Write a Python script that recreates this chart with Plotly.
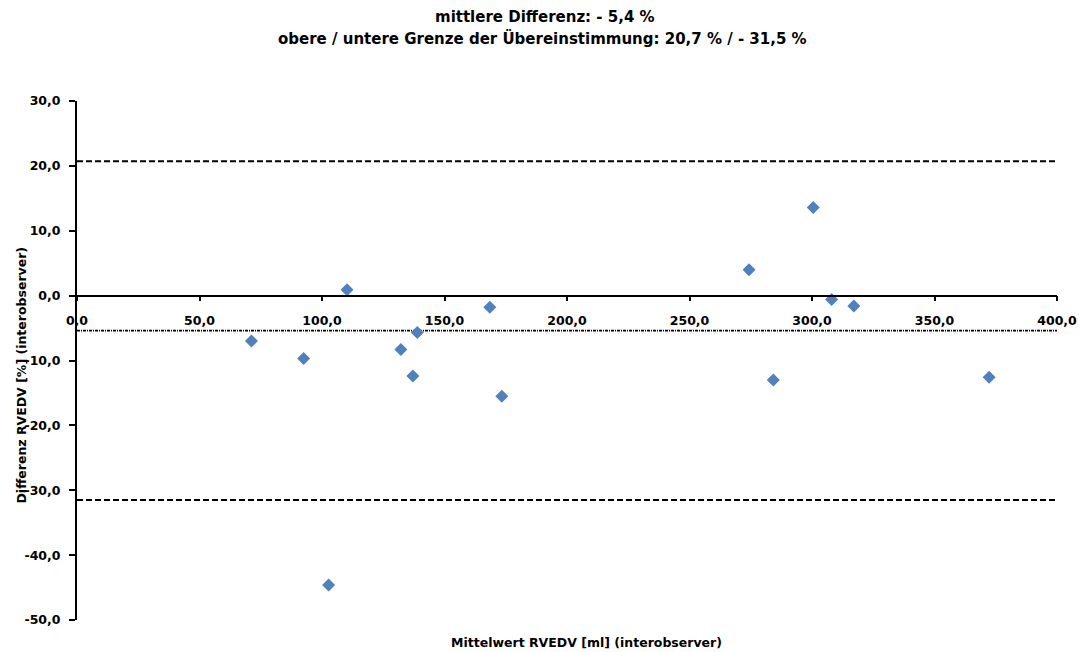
import plotly.graph_objects as go

# data
mittelwert = [71.2, 92.5, 110.2, 102.7, 132.2, 137.1, 138.9, 168.5, 173.4,
              274.3, 284.2, 300.5, 308.0, 317.1, 372.3]
differenz = [-7.0, -9.7, 0.9, -44.6, -8.3, -12.4, -5.7, -1.8, -15.5,
             4.0, -13.0, 13.6, -0.6, -1.6, -12.6]
mean_diff = -5.4
upper_loa = 20.7
lower_loa = -31.5
x_range = [0, 400]
y_range = [-50, 30]
x_tickvals = [0, 50, 100, 150, 200, 250, 300, 350, 400]
x_ticktext = ["0,0", "50,0", "100,0", "150,0", "200,0", "250,0", "300,0", "350,0", "400,0"]
y_tickvals = [-50, -40, -30, -20, -10, 0, 10, 20, 30]
y_ticktext = ["-50,0", "-40,0", "-30,0", "-20,0", "-10,0", "0,0", "10,0", "20,0", "30,0"]

title_line1 = "mittlere Differenz: - 5,4 %"
title_line2 = "obere / untere Grenze der Übereinstimmung: 20,7 % / - 31,5 %"
x_title = "Mittelwert RVEDV [ml] (interobserver)"
y_title = "Differenz RVEDV [%] (interobserver)"

FONT = "DejaVu Sans"
W, H = 1079, 652
L, T = 76.5, 101
R, B = W - 1057, H - 620
PW = W - L - R
PH = H - T - B

fig = go.Figure()
for yv, dash, w in [(upper_loa, "6px,3px", 2), (lower_loa, "6px,3px", 2),
                    (mean_diff, "3px,1px,1px,1px", 1.8)]:
    fig.add_trace(go.Scatter(x=x_range, y=[yv, yv], mode="lines",
                             line=dict(color="black", width=w, dash=dash),
                             showlegend=False, hoverinfo="skip"))

fig.add_trace(go.Scatter(x=mittelwert, y=differenz, mode="markers",
                         marker=dict(symbol="diamond", size=10, color="#4F81BD"),
                         showlegend=False))

fig.update_layout(
    width=W, height=H,
    margin=dict(l=L, r=R, t=T, b=B, autoexpand=False),
    paper_bgcolor="white", plot_bgcolor="white",
    font=dict(family=FONT, color="black"),
    xaxis=dict(range=x_range, tickvals=x_tickvals, ticktext=x_ticktext,
               showgrid=False, zeroline=False, automargin=False,
               showline=True, linecolor="black", linewidth=1.5,
               ticks="outside", ticklen=5, tickwidth=1.5, tickcolor="black",
               anchor="free", position=(0 - y_range[0]) / (y_range[1] - y_range[0]),
               tickfont=dict(size=12.5, family=FONT, weight="bold"), ticklabelstandoff=9),
    yaxis=dict(range=y_range, tickvals=y_tickvals, ticktext=y_ticktext,
               showgrid=False, zeroline=False, automargin=False,
               showline=True, linecolor="black", linewidth=2,
               ticks="outside", ticklen=6, tickwidth=1.5, tickcolor="black",
               tickfont=dict(size=12.5, family=FONT, weight="bold"), ticklabelstandoff=6),
)

def ann(text, px, py, size, angle=0):
    fig.add_annotation(text=text, xref="paper", yref="paper",
                       x=(px - L) / PW, y=1 - (py - T) / PH,
                       xanchor="center", yanchor="middle", textangle=angle,
                       showarrow=False, font=dict(size=size, family=FONT, weight="bold"))

ann(title_line1, 545, 17, 15)
ann(title_line2, 542, 38, 15)
ann(x_title, 586, 642, 12.5)
ann(y_title, 20, 375, 12.5, angle=-90)

fig.write_html("out.html",
               config={"displayModeBar": False},
               post_script="document.body.style.margin='0';"
                           "document.documentElement.style.overflow='hidden';")
